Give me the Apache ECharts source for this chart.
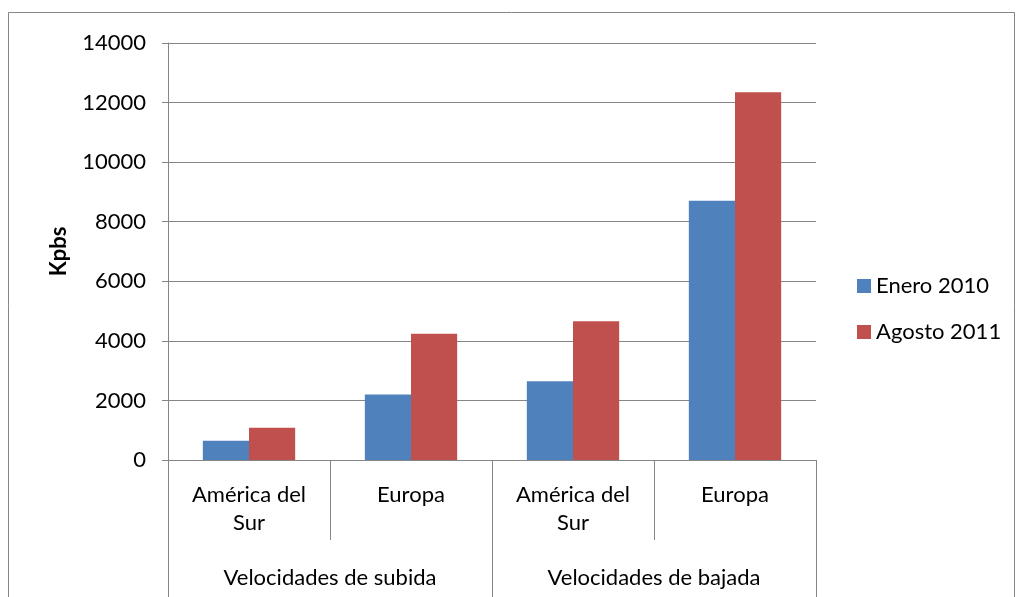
<!DOCTYPE html>
<html>
<head>
<meta charset="utf-8">
<script src="https://cdn.jsdelivr.net/npm/echarts@6/dist/echarts.min.js"></script>
<style>
    html, body { margin: 0; padding: 0; background: #fff; }
    #chart { width: 1016px; height: 597px; }
</style>
</head>
<body>
<div id="chart"></div>
<script>
    // datos
    var regiones = ['América del\nSur', 'Europa', 'América del\nSur', 'Europa'];
    var grupos = ['Velocidades de subida', 'Velocidades de bajada'];
    var enero2010 = [650, 2200, 2640, 8700];
    var agosto2011 = [1080, 4240, 4660, 12350];
    var serieNombres = ['Enero 2010', 'Agosto 2011'];

    var fuente = 'Lato, "Open Sans", sans-serif';
    var gris = '#868686';
    var tam = 22;

    var chart = echarts.init(document.getElementById('chart'));
    var option = {
        animation: false,
        textStyle: {fontFamily: fuente},
        graphic: [{
            type: 'rect',
            shape: {x: 8.5, y: 12.5, width: 1006, height: 600},
            style: {fill: 'none', stroke: gris, lineWidth: 1}
        }],
        legend: {
            orient: 'vertical',
            left: 852,
            top: 270,
            itemWidth: 14,
            itemHeight: 14,
            itemGap: 24,
            icon: 'rect',
            textStyle: {fontSize: tam, color: '#000', fontFamily: fuente},
            data: serieNombres
        },
        grid: {left: 168, right: 200, top: 43, bottom: 137},
        xAxis: [
            {
                type: 'category',
                data: regiones,
                axisLine: {lineStyle: {color: gris}},
                axisTick: {show: true, length: 80, lineStyle: {color: gris}},
                axisLabel: {color: '#000', fontSize: tam, lineHeight: 28, margin: 21, align: 'center', fontFamily: fuente}
            },
            {
                type: 'category',
                data: grupos,
                position: 'bottom',
                axisLine: {show: false},
                axisTick: {show: true, length: 140, lineStyle: {color: gris}},
                axisLabel: {color: '#000', fontSize: tam, margin: 107, fontFamily: fuente}
            }
        ],
        yAxis: {
            type: 'value',
            min: 0,
            max: 14000,
            interval: 2000,
            name: 'Kpbs',
            nameLocation: 'middle',
            nameGap: 98,
            nameTextStyle: {fontSize: tam, fontWeight: 'bold', color: '#000', fontFamily: fuente},
            axisLine: {show: true, lineStyle: {color: gris}},
            axisTick: {show: true, length: 6, lineStyle: {color: gris}},
            axisLabel: {color: '#000', fontSize: tam, margin: 22, fontFamily: fuente, formatter: function (v) { return String(v); }},
            splitLine: {lineStyle: {color: gris}}
        },
        series: [
            {
                name: serieNombres[0],
                type: 'bar',
                data: enero2010,
                barGap: '0%',
                barCategoryGap: '43%',
                itemStyle: {color: '#4F81BD'}
            },
            {
                name: serieNombres[1],
                type: 'bar',
                data: agosto2011,
                itemStyle: {color: '#C0504D'}
            }
        ]
    };
    chart.setOption(option);
</script>
</body>
</html>
